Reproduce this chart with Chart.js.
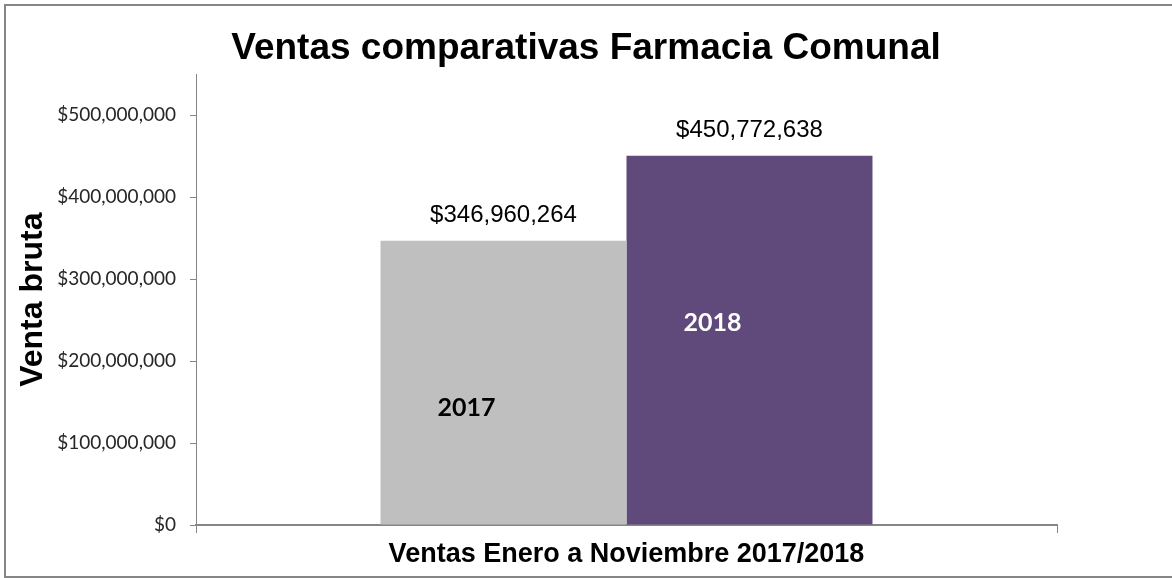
<!DOCTYPE html>
<html>
<head>
<meta charset="utf-8">
<script src="https://cdn.jsdelivr.net/npm/chart.js@4"></script>
<style>
  html, body { margin: 0; padding: 0; background: #fff; }
  canvas { display: block; }
</style>
</head>
<body>
<canvas id="chart" width="1172" height="578"></canvas>
<script>
// data
var categories = ["Ventas Enero a Noviembre 2017/2018"];
var seriesNames = ["2017", "2018"];
var ventas2017 = [346960264];
var ventas2018 = [450772638];
var yTicks = [0, 100000000, 200000000, 300000000, 400000000, 500000000];
var seriesColors = ["#bfbfbf", "#604a7b"];
var nameColors = ["#000000", "#ffffff"];

function money(v) {
  return "$" + Math.round(v).toLocaleString("en-US");
}

// outer frame of the picture
var frame = {
  id: "frame",
  beforeDraw: function (chart) {
    var c = chart.ctx;
    c.save();
    c.fillStyle = "#fff";
    c.fillRect(0, 0, chart.width, chart.height);
    c.strokeStyle = "#868686";
    c.lineWidth = 2;
    c.strokeRect(5, 5, chart.width + 50, chart.height - 6);
    c.restore();
  }
};

// value labels above the bars + series name inside
var barLabels = {
  id: "barLabels",
  afterDatasetsDraw: function (chart) {
    var c = chart.ctx;
    c.save();
    c.textAlign = "center";
    c.textBaseline = "middle";
    chart.data.datasets.forEach(function (ds, i) {
      var meta = chart.getDatasetMeta(i);
      meta.data.forEach(function (bar, j) {
        c.fillStyle = "#000";
        c.font = "24px 'Liberation Sans', Arial, sans-serif";
        c.fillText(money(ds.data[j]), bar.x, bar.y - 25);
        c.fillStyle = nameColors[i];
        c.font = "bold 25px Lato, sans-serif";
        c.fillText(ds.label, bar.x - 37, bar.y + 167);
      });
    });
    c.restore();
  }
};

var ctx = document.getElementById("chart");
var myChart = new Chart(ctx, {
  type: "bar",
  data: {
    labels: categories,
    datasets: [
      { label: seriesNames[0], data: ventas2017, backgroundColor: seriesColors[0] },
      { label: seriesNames[1], data: ventas2018, backgroundColor: seriesColors[1] }
    ]
  },
  options: {
    responsive: false,
    animation: false,
    layout: { padding: 0 },
    datasets: {
      bar: { categoryPercentage: 0.5714, barPercentage: 1.0 }
    },
    plugins: {
      legend: { display: false },
      tooltip: { enabled: false },
      title: {
        display: true,
        text: "Ventas comparativas Farmacia Comunal",
        color: "#000",
        font: { family: "'Liberation Sans', Arial, sans-serif", size: 37, weight: "bold" },
        padding: { top: 27, bottom: 3 }
      }
    },
    scales: {
      x: {
        ticks: { display: false },
        grid: {
          display: true,
          offset: true,
          drawOnChartArea: false,
          drawTicks: true,
          tickLength: 8,
          color: "#868686"
        },
        border: { display: true, color: "#868686", width: 2 },
        title: {
          display: true,
          text: categories[0],
          color: "#000",
          font: { family: "'Liberation Sans', Arial, sans-serif", size: 27, weight: "bold" },
          padding: { top: 0, bottom: 7 }
        },
        afterFit: function (s) { s.height = 53; }
      },
      y: {
        min: 0,
        max: 550000000,
        afterBuildTicks: function (s) {
          s.ticks = yTicks.map(function (v) { return { value: v }; });
        },
        ticks: {
          padding: 14,
          color: "#262626",
          font: { family: "Lato, sans-serif", size: 19 },
          callback: function (v) { return money(v); }
        },
        grid: {
          display: true,
          drawOnChartArea: false,
          drawTicks: true,
          tickLength: 6,
          color: "#868686"
        },
        border: { display: true, color: "#868686", width: 1 },
        title: {
          display: true,
          text: "Venta bruta",
          color: "#000",
          font: { family: "'Liberation Sans', Arial, sans-serif", size: 32, weight: "bold" },
          padding: { top: 14, bottom: 0 }
        },
        afterFit: function (s) { s.width = 196; }
      },
      y2: {
        position: "right",
        display: true,
        ticks: { display: false },
        grid: { display: false },
        border: { display: false },
        afterFit: function (s) { s.width = 115; }
      }
    }
  },
  plugins: [frame, barLabels]
});
</script>
</body>
</html>
